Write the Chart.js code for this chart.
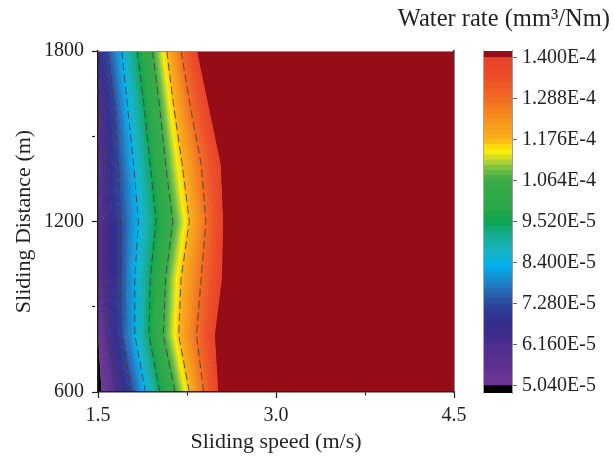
<!DOCTYPE html>
<html>
<head>
<meta charset="utf-8">
<script src="https://cdn.jsdelivr.net/npm/chart.js@4.4.1/dist/chart.umd.min.js"></script>
<style>
  html, body { margin: 0; padding: 0; background: #fff; }
  #wrap { position: relative; width: 614px; height: 458px; }
  #wrap canvas { position: absolute; left: 0; top: 0; }
</style>
</head>
<body>
<div id="wrap">
  <canvas id="contour" width="614" height="458"></canvas>
  <canvas id="colorbar" width="614" height="458"></canvas>
</div>
<script>
// sliding distance rows (m), top to bottom
const distances = [1800, 1600, 1400, 1200, 1000, 800, 600];

// contour levels of the wear rate (mm3/Nm)
const levels = [5.04e-5, 6.16e-5, 7.28e-5, 8.40e-5, 9.52e-5, 1.064e-4, 1.176e-4, 1.288e-4, 1.400e-4];

// sliding speed (m/s) at which each level is reached, one value per distance row
const speedAt504  = [1.35, 1.40, 1.42, 1.42, 1.42, 1.50, 1.53];
const speedAt616  = [1.47, 1.52, 1.54, 1.55, 1.55, 1.58, 1.66];
const speedAt728  = [1.58, 1.64, 1.67, 1.69, 1.69, 1.70, 1.78];
const speedAt840  = [1.70, 1.75, 1.80, 1.84, 1.81, 1.81, 1.90];
const speedAt952  = [1.83, 1.89, 1.94, 1.99, 1.94, 1.93, 2.02];
const speedAt1064 = [1.96, 2.02, 2.07, 2.13, 2.07, 2.05, 2.15];
const speedAt1176 = [2.08, 2.14, 2.21, 2.27, 2.20, 2.18, 2.27];
const speedAt1288 = [2.20, 2.28, 2.37, 2.41, 2.37, 2.33, 2.39];
const speedAt1400 = [2.33, 2.43, 2.53, 2.55, 2.54, 2.48, 2.51];

const xTicks = [1.5, 2.25, 3.0, 3.75, 4.5];
const xTickLabels = ['1.5', '', '3.0', '', '4.5'];
const yTicks = [600, 900, 1200, 1500, 1800];
const yTickLabels = ['600', '', '1200', '', '1800'];
const barTickLabels = ['5.040E-5', '6.160E-5', '7.280E-5', '8.400E-5', '9.520E-5',
                       '1.064E-4', '1.176E-4', '1.288E-4', '1.400E-4'];
const barMin = 4.835e-5, barMax = 1.418e-4;

// colour map (value in 1e-5 units)
const palette = [
  [5.04, '#6e3596'], [5.25, '#6a3394'], [5.74, '#5a2f90'], [6.15, '#4b2d8e'],
  [6.42, '#3d2c8b'], [6.83, '#30308c'], [7.18, '#2e4099'], [7.46, '#2b5ba9'],
  [7.80, '#1f7dc2'], [7.96, '#1a8fd0'], [8.30, '#00aeef'], [8.60, '#12b3cc'],
  [8.90, '#16b0ae'], [9.20, '#14ab88'], [9.40, '#11a766'], [9.52, '#0ea44a'],
  [9.90, '#2aa848'], [10.64, '#3aaa47'], [10.95, '#74bf44'], [11.20, '#c2d62f'],
  [11.45, '#fff200'], [11.60, '#fdd10f'], [11.76, '#f9b118'], [12.30, '#f6921c'],
  [12.88, '#f26a22'], [13.50, '#ec4d27'], [14.00, '#e8402a']
];
const below = '#000000';
const above = '#960d18';
const ink = '#231f20';

function rgb(h) {
  return [1, 3, 5].map(i => parseInt(h.slice(i, i + 2), 16));
}
function rateColor(v) {
  const u = v * 1e5;
  for (let i = 1; i < palette.length; i++) {
    if (u <= palette[i][0]) {
      const [u0, c0] = palette[i - 1], [u1, c1] = palette[i];
      const t = Math.max(0, (u - u0) / (u1 - u0));
      const a = rgb(c0), b = rgb(c1);
      return 'rgb(' + a.map((c, k) => Math.round(c + (b[k] - c) * t)).join(',') + ')';
    }
  }
  return palette[palette.length - 1][1];
}

Chart.defaults.font.family = "'Liberation Serif', 'Times New Roman', serif";
Chart.defaults.color = ink;

// each band between two read levels is shaded in 8 steps, like the colour bar
const SUB = 8;
const contours = [speedAt504, speedAt616, speedAt728, speedAt840, speedAt952,
                  speedAt1064, speedAt1176, speedAt1288, speedAt1400];
const bounds = [];
for (let k = 0; k < contours.length - 1; k++) {
  for (let m = 0; m < SUB; m++) {
    bounds.push({
      value: levels[k] + (levels[k + 1] - levels[k]) * m / SUB,
      speeds: contours[k].map((s, i) => s + (contours[k + 1][i] - s) * m / SUB)
    });
  }
}
bounds.push({ value: levels[levels.length - 1], speeds: speedAt1400 });

const pts = speeds => speeds.map((s, i) => ({ x: s, y: distances[i] }));

const datasets = bounds.map((b, j) => {
  const col = j === 0 ? below : rateColor((bounds[j - 1].value + b.value) / 2);
  return {
    data: pts(b.speeds),
    fill: j === 0 ? { value: 1.5 } : '-1',
    backgroundColor: col,
    borderColor: col,
    borderWidth: j === 0 ? 0 : 1,
    xAxisID: 'x', yAxisID: 'y'
  };
});
datasets.push({
  data: pts(speedAt1400), fill: { value: 4.5 },
  backgroundColor: above, borderWidth: 0, xAxisID: 'x', yAxisID: 'y'
});
// dashed contour lines on the inner levels
contours.slice(1, -1).forEach(c => datasets.push({
  data: pts(c), fill: false, order: -1,
  borderColor: 'rgba(60,60,60,0.8)', borderWidth: 1, borderDash: [8, 4],
  xAxisID: 'x', yAxisID: 'y'
}));

new Chart(document.getElementById('contour'), {
  type: 'line',
  data: { datasets },
  options: {
    indexAxis: 'y',
    responsive: false,
    animation: false,
    devicePixelRatio: 1,
    events: [],
    layout: { padding: { left: 0, top: 51, right: 160, bottom: 0 } },
    elements: { point: { radius: 0 }, line: { tension: 0 } },
    plugins: { legend: { display: false }, tooltip: { enabled: false } },
    scales: {
      x: {
        type: 'linear', position: 'bottom', min: 1.5, max: 4.5,
        afterBuildTicks: s => { s.ticks = xTicks.map(v => ({ value: v })); },
        afterFit: s => { s.height = 66; },
        ticks: { autoSkip: false, maxRotation: 0, padding: 6, font: { size: 20 },
                 callback: (v, i) => xTickLabels[i] },
        grid: { drawOnChartArea: false, tickLength: 6, tickColor: ink, tickWidth: 1.2,
                tickBorderDash: c => (c.index % 2 ? [3, 10] : []) },
        border: { color: ink, width: 1.5, z: 1 },
        title: { display: true, text: 'Sliding speed (m/s)', font: { size: 22 },
                 padding: { top: 0, bottom: 3 } }
      },
      y: {
        type: 'linear', position: 'left', min: 600, max: 1800,
        afterBuildTicks: s => { s.ticks = yTicks.map(v => ({ value: v })); },
        afterFit: s => { s.width = 98; },
        ticks: { autoSkip: false, padding: 8, font: { size: 20 },
                 callback: (v, i) => yTickLabels[i] },
        grid: { drawOnChartArea: false, tickLength: 6, tickColor: ink, tickWidth: 1.2,
                tickBorderDash: c => (c.index % 2 ? [3, 10] : []) },
        border: { color: ink, width: 1.5, z: 1 },
        title: { display: true, text: 'Sliding Distance (m)', font: { size: 22 },
                 padding: { top: 11, bottom: 0 } }
      },
      x2: {
        type: 'linear', position: 'top', min: 1.5, max: 4.5,
        ticks: { display: false }, grid: { display: false },
        border: { color: '#8c8c8c', width: 1, z: 1 },
        afterFit: s => { s.height = 0; }
      },
      y2: {
        type: 'linear', position: 'right', min: 600, max: 1800,
        ticks: { display: false }, grid: { display: false },
        border: { color: '#3a3a3a', width: 1.6, z: 1 },
        afterFit: s => { s.width = 0; }
      }
    }
  }
});

// colour bar
const barBands = [{ lo: barMin, hi: levels[0], color: below }];
for (let j = 1; j < bounds.length; j++) {
  barBands.push({ lo: bounds[j - 1].value, hi: bounds[j].value,
                  color: rateColor((bounds[j - 1].value + bounds[j].value) / 2) });
}
barBands.push({ lo: levels[levels.length - 1], hi: barMax, color: above });

new Chart(document.getElementById('colorbar'), {
  type: 'bar',
  data: {
    labels: [''],
    datasets: barBands.map(b => ({
      data: [[b.lo, b.hi]],
      backgroundColor: b.color,
      borderWidth: 0,
      grouped: false,
      barPercentage: 1,
      categoryPercentage: 1,
      xAxisID: 'x', yAxisID: 'y'
    }))
  },
  options: {
    responsive: false,
    animation: false,
    devicePixelRatio: 1,
    events: [],
    layout: { padding: { left: 0, right: 4, top: 0, bottom: 65 } },
    plugins: {
      legend: { display: false },
      tooltip: { enabled: false },
      title: { display: true, text: 'Water rate (mm³/Nm)', align: 'end', color: ink,
               font: { size: 24.5, weight: 'normal' }, padding: { top: 5, bottom: 16.5 } }
    },
    scales: {
      x: { type: 'category', display: false },
      yl: {
        type: 'linear', position: 'left',
        ticks: { display: false }, grid: { display: false },
        border: { display: true, color: '#a8a8a8', width: 1, z: 1 },
        afterFit: s => { s.width = 483; }
      },
      y: {
        type: 'linear', position: 'right', min: barMin, max: barMax,
        afterBuildTicks: s => { s.ticks = levels.map(v => ({ value: v })); },
        afterFit: s => { s.width = 98; },
        ticks: { autoSkip: false, padding: 5, font: { size: 20 },
                 callback: (v, i) => barTickLabels[i] },
        grid: { drawOnChartArea: false, tickLength: 5, tickColor: '#666', tickWidth: 1 },
        border: { color: '#9a9a9a', width: 1, z: 1 }
      }
    }
  }
});
</script>
</body>
</html>
